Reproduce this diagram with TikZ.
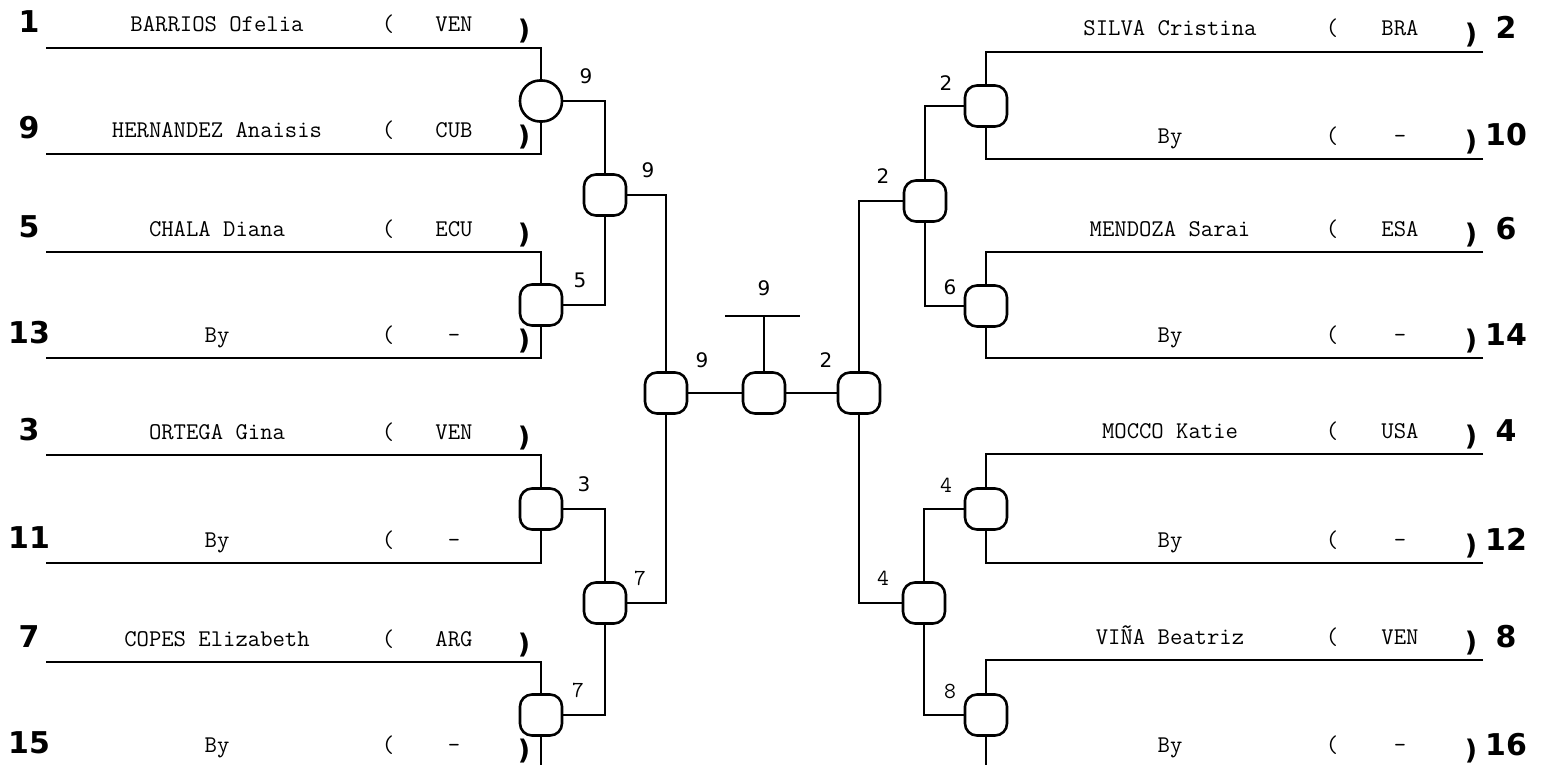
\documentclass[tikz,border=0pt]{standalone}
\usepackage{fontspec}
\newfontfamily\labfont{DejaVu Sans}
\usetikzlibrary{positioning}

\begin{document}
\begin{tikzpicture}[
        x = 1pt, y = -1pt, % pixel grid, y runs downwards
        line width = 2.6pt, % line style
        box/.style = {draw, rounded corners=12pt, minimum width=42pt, minimum height=41pt, inner sep=0pt},
        seed/.style = {font=\labfont\bfseries\fontsize{30}{30}\selectfont, anchor=base},
        player/.style = {font=\ttfamily\fontsize{24}{24}\selectfont, anchor=base},
        paren/.style = {font=\labfont\bfseries\fontsize{27}{27}\selectfont},
        win/.style = {font=\labfont\fontsize{20}{20}\selectfont},
        wintt/.style = {font=\ttfamily\fontsize{23}{23}\selectfont}
        ]

  \useasboundingbox (0,0) rectangle (1544,765);

  % left half
  \foreach \yy/\sd/\nm/\ct/\cl in {48/1/BARRIOS Ofelia/VEN/), 154/9/HERNANDEZ Anaisis/CUB/),
      252/5/CHALA Diana/ECU/), 358/13/By/-/), 455/3/ORTEGA Gina/VEN/), 563/11/By/-/{},
      662/7/COPES Elizabeth/ARG/), 768/15/By/-/)} {
    \coordinate (s\sd) at (46,\yy);
    \node[seed] (n\sd) at (29,\yy-15) {\sd};
    \node[player] (nm\sd) at (217,\yy-16) {\nm};
    \node[player] (o\sd) at (388,\yy-16) {(};
    \node[player] (c\sd) at (454,\yy-16) {\ct};
    \node[paren] (k\sd) at (524,\yy-17) {\cl};
  }

  % right half
  \foreach \yy/\sd/\nm/\ct in {52/2/SILVA Cristina/BRA, 159/10/By/-,
      252/6/MENDOZA Sarai/ESA, 358/14/By/-, 454/4/MOCCO Katie/USA, 563/12/By/-,
      660/8/VIÑA Beatriz/VEN, 768/16/By/-} {
    \coordinate (s\sd) at (1483,\yy);
    \node[seed] (n\sd) at (1506,\yy-13) {\sd};
    \node[player] (nm\sd) at (1170,\yy-16) {\nm};
    \node[player] (o\sd) at (1332,\yy-16) {(};
    \node[player] (c\sd) at (1400,\yy-16) {\ct};
    \node[paren] (k\sd) at (1471,\yy-17) {)};
  }

  % boxes
  \node[box, rounded corners=20pt] (B1) at (541,101) {};
  \node[box] (B2) at (605,195) {};
  \node[box] (B3) at (541,305) {};
  \node[box] (B5) at (541,509) {};
  \node[box] (B6) at (605,603) {};
  \node[box] (B7) at (541,715) {};
  \node[box] (FL) at (666,393) {};
  \node[box] (M) at (764,393) {};
  \node[box] (FR) at (859,393) {};
  \node[box] (R1) at (986,106) {};
  \node[box] (R2) at (925,201) {};
  \node[box] (R3) at (986,306) {};
  \node[box] (R5) at (986,509) {};
  \node[box] (R6) at (924,603) {};
  \node[box] (R7) at (986,715) {};

  \coordinate (tl) at (725,316);
  \coordinate (tr) at (800,316);
  \coordinate (tt) at (764,316);

  % lines into the boxes
  \draw (s1) -| (B1.north);  \draw (s9) -| (B1.south);
  \draw (s5) -| (B3.north);  \draw (s13) -| (B3.south);
  \draw (s3) -| (B5.north);  \draw (s11) -| (B5.south);
  \draw (s7) -| (B7.north);  \draw (s15) -| (B7.south);
  \draw (s2) -| (R1.north);  \draw (s10) -| (R1.south);
  \draw (s6) -| (R3.north);  \draw (s14) -| (R3.south);
  \draw (s4) -| (R5.north);  \draw (s12) -| (R5.south);
  \draw (s8) -| (R7.north);  \draw (s16) -| (R7.south);

  \draw (B1.east) -| (B2.north);  \draw (B3.east) -| (B2.south);
  \draw (B5.east) -| (B6.north);  \draw (B7.east) -| (B6.south);
  \draw (B2.east) -| (FL.north);  \draw (B6.east) -| (FL.south);
  \draw (R1.west) -| (R2.north);  \draw (R3.west) -| (R2.south);
  \draw (R5.west) -| (R6.north);  \draw (R7.west) -| (R6.south);
  \draw (R2.west) -| (FR.north);  \draw (R6.west) -| (FR.south);
  \draw (FL) -- (M);  \draw (M) -- (FR);
  \draw (M.north) -- (tt);
  \draw (tl) -- (tr);

  % winners
  \node[win] (w1) at (586,76) {9};
  \node[win] (w2) at (648,170) {9};
  \node[win] (w3) at (580,280) {5};
  \node[win] (w5) at (584,484) {3};
  \node[wintt] (w6) at (640,578) {7};
  \node[wintt] (w7) at (578,690) {7};
  \node[win] (wl) at (702,360) {9};
  \node[win] (wm) at (764,288) {9};
  \node[win] (wr) at (826,360) {2};
  \node[win] (v1) at (946,83) {2};
  \node[win] (v2) at (883,176) {2};
  \node[win] (v3) at (950,287) {6};
  \node[wintt] (v5) at (946,485) {4};
  \node[wintt] (v6) at (883,578) {4};
  \node[wintt] (v7) at (950,691) {8};

\end{tikzpicture}
\end{document}
